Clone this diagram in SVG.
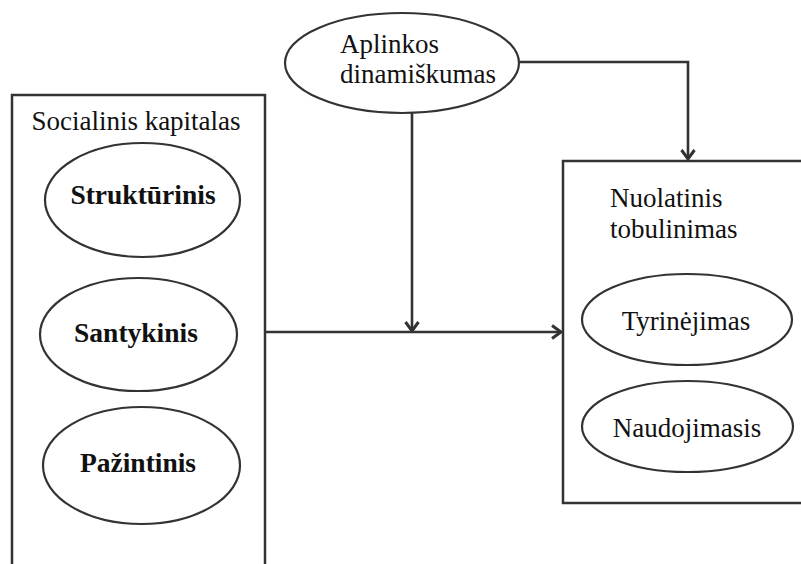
<svg xmlns="http://www.w3.org/2000/svg" width="801" height="564" viewBox="0 0 801 564">
<style>
.box{fill:none;stroke:#333;stroke-width:2.5}
.ell{fill:#fff;stroke:#333;stroke-width:2.2}
text{font-family:'Liberation Serif','DejaVu Serif',serif;fill:#111}
.t{font-size:27px}
.b{font-size:27.5px;font-weight:bold;text-anchor:middle}
.c{fill:none;stroke:#333;stroke-width:2.6}
</style>
<defs>
<marker id="arr" markerUnits="userSpaceOnUse" markerWidth="16" markerHeight="18" refX="11" refY="8" orient="auto" viewBox="0 0 16 16">
<path d="M2,1.5 L11,8 L2,14.5" fill="none" stroke="#333" stroke-width="3" stroke-linejoin="miter"/>
</marker>
</defs>
<rect width="801" height="564" fill="#fff"/>
<g id="social">
<rect class="box" x="12" y="95" width="253" height="480"/>
<text class="t" x="136" y="130" text-anchor="middle" font-family="Liberation Serif">Socialinis kapitalas</text>
</g>
<g id="strukturinis">
<ellipse class="ell" cx="142.5" cy="200" rx="97.5" ry="57"/>
<text class="b" x="143" y="204">Struktūrinis</text>
</g>
<g id="santykinis">
<ellipse class="ell" cx="138.5" cy="334.5" rx="98.5" ry="56.5"/>
<text class="b" x="136" y="342">Santykinis</text>
</g>
<g id="pazintinis">
<ellipse class="ell" cx="141.5" cy="465.5" rx="98.5" ry="58.5"/>
<text class="b" x="138" y="472">Pažintinis</text>
</g>
<g id="aplinkos">
<ellipse class="ell" cx="402" cy="63" rx="117" ry="50"/>
<text class="t" x="340" y="53">Aplinkos</text>
<text class="t" x="340" y="83">dinamiškumas</text>
</g>
<g id="nuolatinis">
<rect class="box" x="563" y="161" width="250" height="342"/>
<text class="t" x="610" y="207">Nuolatinis</text>
<text class="t" x="610" y="238">tobulinimas</text>
</g>
<g id="tyrinejimas">
<ellipse class="ell" cx="687" cy="319.5" rx="105" ry="45.5"/>
<text class="t" x="686" y="330" text-anchor="middle">Tyrinėjimas</text>
</g>
<g id="naudojimasis">
<ellipse class="ell" cx="687.5" cy="426.5" rx="105.5" ry="45.5"/>
<text class="t" x="687" y="437" text-anchor="middle">Naudojimasis</text>
</g>
<g id="connectors">
<path class="c" d="M519,62 H688 V159" marker-end="url(#arr)"/>
<path class="c" d="M412,113 V331" marker-end="url(#arr)"/>
<path class="c" d="M265,332 H561" marker-end="url(#arr)"/>
</g>
</svg>
